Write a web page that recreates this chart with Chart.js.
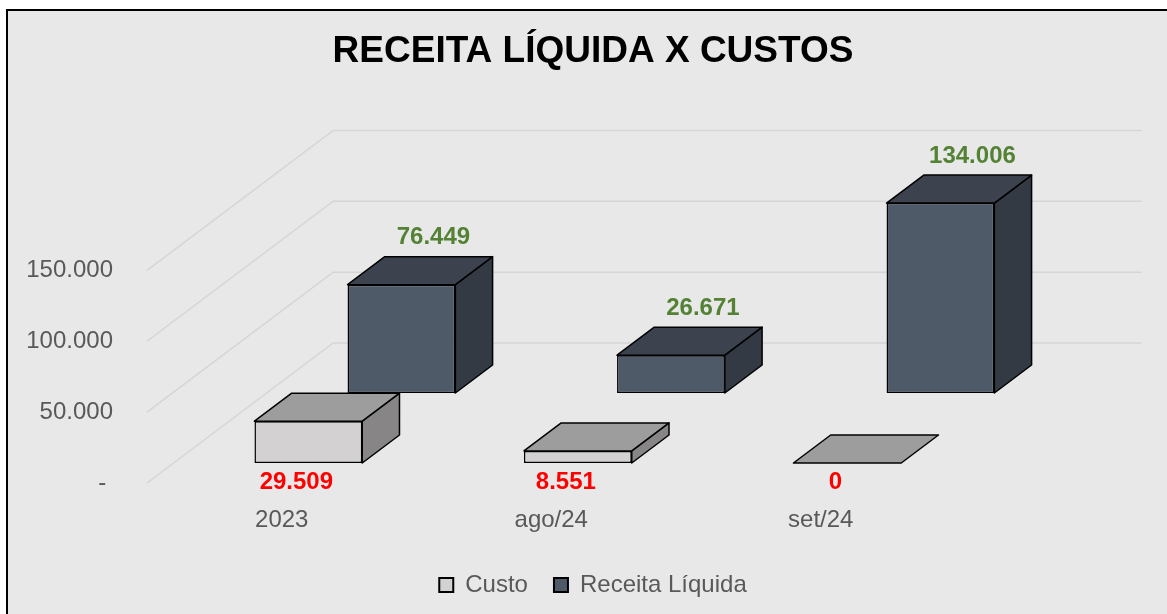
<!DOCTYPE html>
<html lang="pt-BR">
<head>
<meta charset="utf-8">
<title>Receita Líquida x Custos</title>
<script src="https://cdn.jsdelivr.net/npm/chart.js@4.4.1/dist/chart.umd.min.js"></script>
<style>
    html, body { margin: 0; padding: 0; background: #ffffff; }
    #wrap { position: relative; width: 1167px; height: 614px; overflow: hidden; }
    #frame {
        position: absolute; left: 6px; top: 9px; width: 1300px; height: 700px;
        background: #e8e8e8; border-top: 2px solid #000; border-left: 2px solid #000;
    }
    #chart { position: absolute; left: 0; top: 0; }
</style>
</head>
<body>
<div id="wrap">
    <div id="frame"></div>
    <canvas id="chart" width="1167" height="614"></canvas>
</div>
<script>
/*
 * Receita líquida x custos - 3D style column chart.
 * Chart.js draws the front faces, a small plugin adds the top/side faces and the back wall.
 */

const categories = ['2023', 'ago/24', 'set/24'];
const custo = [29509, 8551, 0];
const receitaLiquida = [76449, 26671, 134006];
const yTicks = [0, 50000, 100000, 150000];

// depth of the fake 3D view (in vertical px, horizontal = depth * SLANT)
const SERIES_DEPTH = [20, 90];
const BAR_DEPTH = 28;
const WALL_DEPTH = 140;
const SLANT = 1.33;

const faceColors = [
    { top: '#9d9d9d', side: '#878585' },   // Custo
    { top: '#3d434e', side: '#333a44' }    // Receita Líquida
];

const FONT = '"Liberation Sans", Arial, sans-serif';
Chart.defaults.font.family = FONT;

/**
 * Formats a number with dots as thousand separators (pt-BR).
 */
function fmt(v) {
    return String(Math.round(v)).replace(/\B(?=(\d{3})+(?!\d))/g, '.');
}

function offsetOf(depth) {
    return { dx: depth * SLANT, dy: -depth };
}

const bars3d = {
    id: 'bars3d',
    beforeDatasetsDraw(chart) {
        // gridlines: diagonal on the side wall, then straight along the back wall
        const { ctx, chartArea, scales } = chart;
        const o = offsetOf(WALL_DEPTH);
        ctx.save();
        ctx.strokeStyle = '#d5d5d5';
        ctx.lineWidth = 1.5;
        yTicks.forEach(v => {
            const py = scales.y.getPixelForValue(v);
            ctx.beginPath();
            ctx.moveTo(chartArea.left, py);
            ctx.lineTo(chartArea.left + o.dx, py + o.dy);
            ctx.lineTo(chartArea.right + o.dx, py + o.dy);
            ctx.stroke();
        });
        ctx.restore();
    },
    beforeDatasetDraw(chart, args) {
        const o = offsetOf(SERIES_DEPTH[args.index]);
        chart.ctx.save();
        chart.ctx.translate(o.dx, o.dy);
    },
    afterDatasetDraw(chart, args) {
        const ctx = chart.ctx;
        const d = offsetOf(BAR_DEPTH);
        const colors = faceColors[args.index];
        ctx.lineWidth = 1.5;
        ctx.strokeStyle = '#000';
        ctx.lineJoin = 'round';
        args.meta.data.forEach(bar => {
            const left = bar.x - bar.width / 2;
            const right = bar.x + bar.width / 2;
            const top = bar.y;
            const base = bar.base;

            if (base - top > 0.5) {
                ctx.beginPath();
                ctx.moveTo(right, top);
                ctx.lineTo(right + d.dx, top + d.dy);
                ctx.lineTo(right + d.dx, base + d.dy);
                ctx.lineTo(right, base);
                ctx.closePath();
                ctx.fillStyle = colors.side;
                ctx.fill();
                ctx.stroke();
            }

            ctx.beginPath();
            ctx.moveTo(left, top);
            ctx.lineTo(right, top);
            ctx.lineTo(right + d.dx, top + d.dy);
            ctx.lineTo(left + d.dx, top + d.dy);
            ctx.closePath();
            ctx.fillStyle = colors.top;
            ctx.fill();
            ctx.stroke();
        });
        ctx.restore();
    },
    afterDatasetsDraw(chart) {
        // value labels: red under Custo, green above Receita Líquida
        const ctx = chart.ctx;
        ctx.save();
        ctx.font = 'bold 24px ' + FONT;
        ctx.textAlign = 'center';
        ctx.textBaseline = 'middle';

        const oc = offsetOf(SERIES_DEPTH[0]);
        ctx.fillStyle = '#ff0000';
        chart.getDatasetMeta(0).data.forEach((bar, i) => {
            ctx.fillText(fmt(custo[i]), bar.x + oc.dx - 12, bar.base + oc.dy + 19);
        });

        const orl = offsetOf(SERIES_DEPTH[1]);
        ctx.fillStyle = '#548235';
        chart.getDatasetMeta(1).data.forEach((bar, i) => {
            ctx.fillText(fmt(receitaLiquida[i]), bar.x + orl.dx + 32, bar.y + orl.dy - BAR_DEPTH - 19);
        });
        ctx.restore();
    }
};

/**
 * Builds the chart.
 */
function initChart() {
    const ctx = document.getElementById('chart');
    new Chart(ctx, {
        type: 'bar',
        data: {
            labels: categories,
            datasets: [
                {
                    label: 'Custo',
                    data: custo,
                    backgroundColor: '#d3d1d2',
                    borderColor: '#000',
                    borderWidth: 1.5,
                    borderSkipped: false,
                    clip: false
                },
                {
                    label: 'Receita Líquida',
                    data: receitaLiquida,
                    backgroundColor: '#4f5a69',
                    borderColor: '#000',
                    borderWidth: 1.5,
                    borderSkipped: false,
                    clip: false
                }
            ]
        },
        options: {
            responsive: false,
            animation: false,
            devicePixelRatio: 1,
            grouped: false,
            categoryPercentage: 1,
            barPercentage: 0.4,
            layout: { padding: { left: 19, right: 0, top: 0, bottom: 7 } },
            plugins: {
                title: {
                    display: true,
                    text: 'RECEITA LÍQUIDA X CUSTOS',
                    color: '#000',
                    font: { size: 37, weight: 'bold' },
                    padding: { top: 30, bottom: 196 }
                },
                legend: {
                    position: 'bottom',
                    labels: {
                        color: '#595959',
                        font: { size: 24 },
                        boxWidth: 14,
                        boxHeight: 14,
                        padding: 26,
                        generateLabels: chart => chart.data.datasets.map((ds, i) => ({
                            text: ds.label,
                            fillStyle: ds.backgroundColor,
                            strokeStyle: '#000',
                            lineWidth: 2,
                            hidden: false,
                            datasetIndex: i,
                            fontColor: '#595959'
                        }))
                    }
                },
                tooltip: { enabled: false }
            },
            scales: {
                x: {
                    grid: { display: false },
                    border: { display: false },
                    ticks: { color: '#595959', font: { size: 24 }, padding: 15, maxRotation: 0 },
                    afterFit: s => { s.height = 64; }
                },
                y: {
                    min: 0,
                    max: 150000,
                    grid: { display: false },
                    border: { display: false },
                    ticks: {
                        stepSize: 50000,
                        color: '#595959',
                        font: { size: 24 },
                        padding: 26,
                        callback: v => (v === 0 ? '- ' : fmt(v))
                    },
                    afterFit: s => { s.width = 128; }
                },
                pad: {
                    type: 'linear',
                    position: 'right',
                    display: true,
                    grid: { display: false },
                    border: { display: false },
                    ticks: { display: false },
                    afterFit: s => { s.width = 211.5; }
                }
            }
        },
        plugins: [bars3d]
    });
}

document.addEventListener('DOMContentLoaded', initChart);
</script>
</body>
</html>
